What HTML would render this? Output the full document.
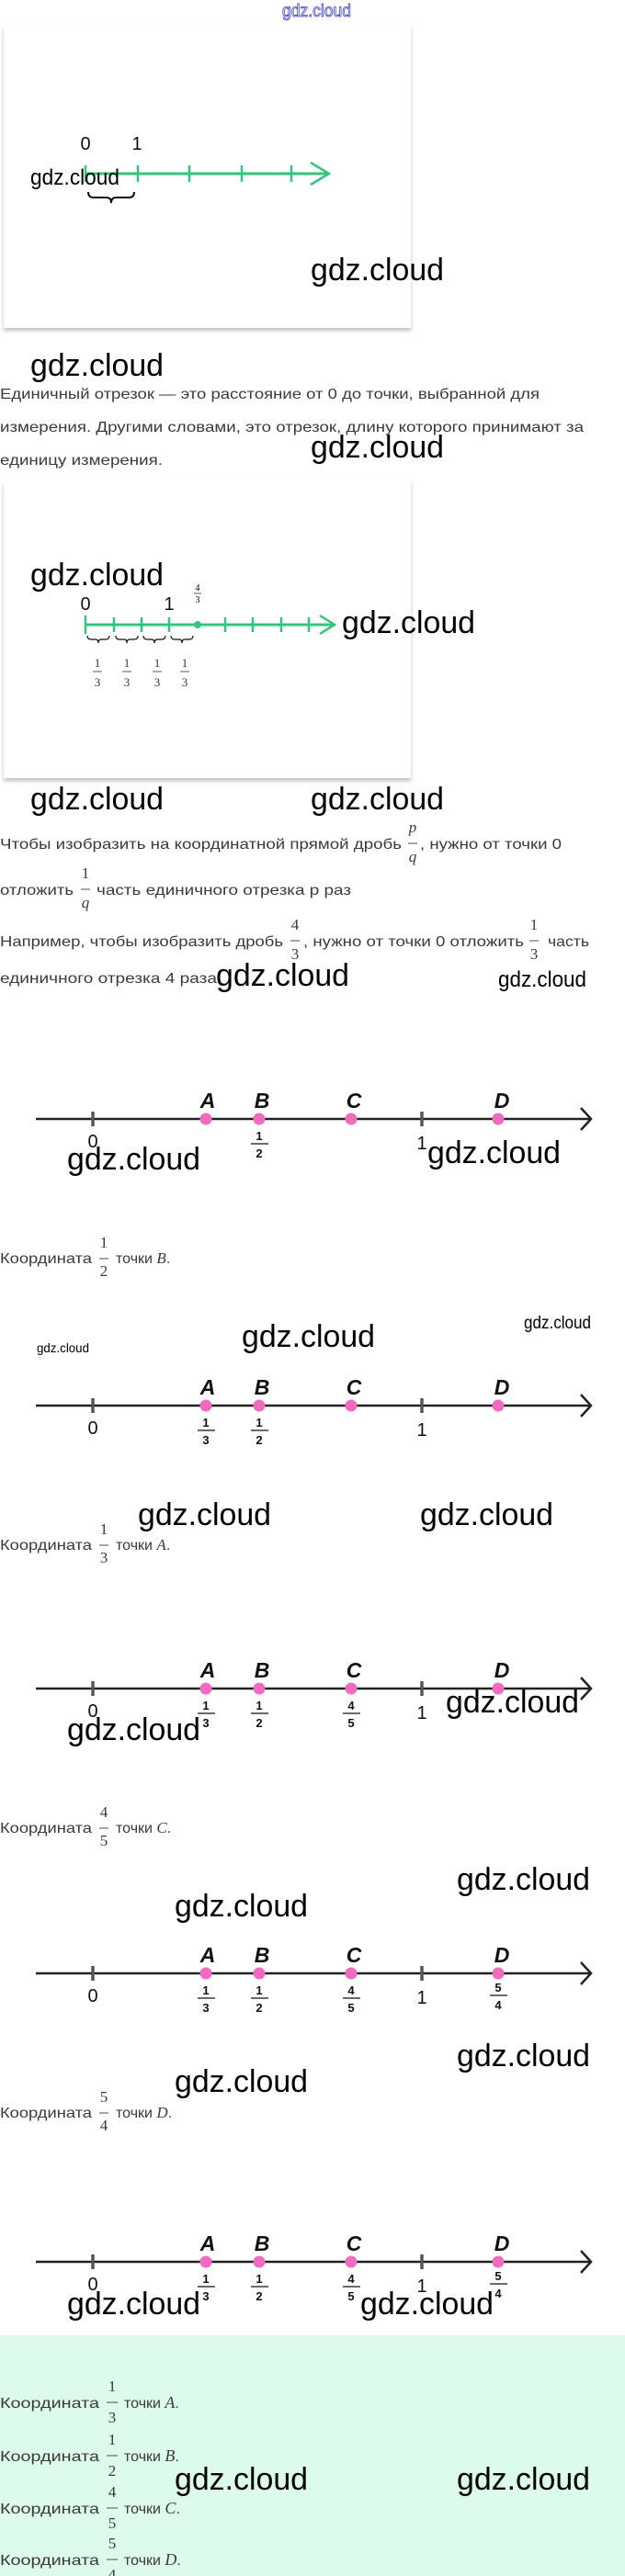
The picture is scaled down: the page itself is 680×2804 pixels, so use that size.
<!DOCTYPE html>
<html><head><meta charset="utf-8"><style>
html,body{margin:0;padding:0;background:#fff;}
svg{display:block;}
.w{font-family:"Liberation Sans",sans-serif;fill:#000;}
.t{font-family:"Liberation Sans",sans-serif;fill:#3a3a3a;font-size:16px;}
.m{font-family:"Liberation Serif",serif;fill:#3a3a3a;font-size:17px;}
.lb{font-family:"Liberation Sans",sans-serif;font-weight:bold;font-style:italic;font-size:23px;fill:#111;}
.nm{font-family:"Liberation Sans",sans-serif;font-size:20px;fill:#111;}
.fr{font-family:"Liberation Sans",sans-serif;font-weight:bold;font-size:13px;fill:#111;}
</style></head><body>
<svg width="680" height="2804" viewBox="0 0 680 2804" xmlns="http://www.w3.org/2000/svg">
<defs>
<filter id="sh" x="-5%" y="-5%" width="110%" height="115%"><feDropShadow dx="0" dy="3" stdDeviation="2" flood-color="#000" flood-opacity="0.25"/></filter>
<g id="nl">
  <line x1="39" y1="0" x2="642" y2="0" stroke="#222" stroke-width="2.5"/>
  <polyline points="632,-12 643,0 632,12" fill="none" stroke="#222" stroke-width="2.5"/>
  <line x1="101" y1="-8" x2="101" y2="8" stroke="#555" stroke-width="3.5"/>
  <line x1="459" y1="-8" x2="459" y2="8" stroke="#555" stroke-width="3.5"/>
  <circle cx="224" cy="0" r="6.5" fill="#f06ac0"/>
  <circle cx="282" cy="0" r="6.5" fill="#f06ac0"/>
  <circle cx="382" cy="0" r="6.5" fill="#f06ac0"/>
  <circle cx="542" cy="0" r="6.5" fill="#f06ac0"/>
  <text class="lb" x="226" y="-12" text-anchor="middle">A</text>
  <text class="lb" x="285" y="-12" text-anchor="middle">B</text>
  <text class="lb" x="385" y="-12" text-anchor="middle">C</text>
  <text class="lb" x="546" y="-12" text-anchor="middle">D</text>
  <text class="nm" x="101" y="31" text-anchor="middle">0</text>
  <text class="nm" x="459" y="33" text-anchor="middle">1</text>
  <text class="fr" x="282" y="23" text-anchor="middle">1</text>
  <line x1="273" y1="27" x2="292" y2="27" stroke="#111" stroke-width="1.3"/>
  <text class="fr" x="282" y="42" text-anchor="middle">2</text>
</g>
<g id="fA"><text class="fr" x="224" y="23" text-anchor="middle">1</text><line x1="215" y1="27" x2="234" y2="27" stroke="#111" stroke-width="1.3"/><text class="fr" x="224" y="42" text-anchor="middle">3</text></g>
<g id="fC"><text class="fr" x="382" y="23" text-anchor="middle">4</text><line x1="373" y1="27" x2="392" y2="27" stroke="#111" stroke-width="1.3"/><text class="fr" x="382" y="42" text-anchor="middle">5</text></g>
<g id="fD"><text class="fr" x="542" y="20" text-anchor="middle">5</text><line x1="533" y1="24" x2="552" y2="24" stroke="#111" stroke-width="1.3"/><text class="fr" x="542" y="39" text-anchor="middle">4</text></g>
</defs>

<!-- top watermark -->
<text x="307" y="18" font-family="Liberation Sans,sans-serif" font-size="19" fill="#fff" stroke="#3333cc" stroke-width="0.8" textLength="75" lengthAdjust="spacingAndGlyphs">gdz.cloud</text>

<!-- card 1 -->
<rect x="4" y="28" width="443" height="329" fill="#fff" filter="url(#sh)"/>
<line x1="93" y1="189" x2="356" y2="189" stroke="#34c47a" stroke-width="3"/>
<polyline points="338,177 358,189 338,201" fill="none" stroke="#34c47a" stroke-width="2.5"/>
<g stroke="#34c47a" stroke-width="2.5">
<line x1="93" y1="180" x2="93" y2="198"/><line x1="150" y1="180" x2="150" y2="198"/><line x1="206" y1="180" x2="206" y2="198"/><line x1="263" y1="180" x2="263" y2="198"/><line x1="317" y1="180" x2="317" y2="198"/>
</g>
<text class="nm" x="93" y="163" text-anchor="middle">0</text>
<text class="nm" x="149" y="163" text-anchor="middle">1</text>
<path d="M96,209 q0,6 6,6 h14 q5,0 5,6 q0,-6 5,-6 h14 q6,0 6,-6" fill="none" stroke="#111" stroke-width="2"/>

<!-- text block 1 -->
<text class="t" x="0" y="434" textLength="587" lengthAdjust="spacingAndGlyphs">Единичный отрезок — это расстояние от 0 до точки, выбранной для</text>
<text class="t" x="0" y="470" textLength="635" lengthAdjust="spacingAndGlyphs">измерения. Другими словами, это отрезок, длину которого принимают за</text>
<text class="t" x="0" y="506" textLength="177" lengthAdjust="spacingAndGlyphs">единицу измерения.</text>

<!-- card 2 -->
<rect x="4" y="523" width="443" height="324" fill="#fff" filter="url(#sh)"/>
<line x1="93" y1="680" x2="362" y2="680" stroke="#34c47a" stroke-width="3"/>
<polyline points="348,670 364,680 348,690" fill="none" stroke="#34c47a" stroke-width="2.5"/>
<g stroke="#34c47a" stroke-width="2.5">
<line x1="93" y1="670" x2="93" y2="690"/><line x1="124" y1="672" x2="124" y2="688"/><line x1="154" y1="672" x2="154" y2="688"/><line x1="184" y1="672" x2="184" y2="688"/><line x1="245" y1="672" x2="245" y2="688"/><line x1="275" y1="672" x2="275" y2="688"/><line x1="306" y1="672" x2="306" y2="688"/><line x1="336" y1="672" x2="336" y2="688"/>
</g>
<circle cx="215" cy="680" r="4" fill="#34c47a"/>
<text class="nm" x="93" y="664" text-anchor="middle">0</text>
<text class="nm" x="184" y="664" text-anchor="middle">1</text>
<text font-family="Liberation Serif,serif" font-size="10" x="215" y="643" text-anchor="middle">4</text>
<line x1="211" y1="646" x2="219" y2="646" stroke="#333" stroke-width="0.8"/>
<text font-family="Liberation Serif,serif" font-size="10" x="215" y="656" text-anchor="middle">3</text>
<g fill="none" stroke="#111" stroke-width="1.2">
<path d="M95,692 q0,4 4,4 h5 q3,0 3,4 q0,-4 3,-4 h5 q4,0 4,-4"/>
<path d="M126,692 q0,4 4,4 h5 q3,0 3,4 q0,-4 3,-4 h5 q4,0 4,-4"/>
<path d="M156,692 q0,4 4,4 h5 q3,0 3,4 q0,-4 3,-4 h5 q4,0 4,-4"/>
<path d="M186,692 q0,4 4,4 h5 q3,0 3,4 q0,-4 3,-4 h5 q4,0 4,-4"/>
</g>
<g font-family="Liberation Serif,serif" font-size="13" fill="#333" text-anchor="middle">
<text x="106" y="726">1</text><text x="106" y="747">3</text>
<text x="138" y="726">1</text><text x="138" y="747">3</text>
<text x="171" y="726">1</text><text x="171" y="747">3</text>
<text x="201" y="726">1</text><text x="201" y="747">3</text>
</g>
<g stroke="#333" stroke-width="0.8">
<line x1="101" y1="731" x2="111" y2="731"/><line x1="133" y1="731" x2="143" y2="731"/><line x1="166" y1="731" x2="176" y2="731"/><line x1="196" y1="731" x2="206" y2="731"/>
</g>

<!-- text block 2 -->
<text class="t" x="0" y="924" textLength="437" lengthAdjust="spacingAndGlyphs">Чтобы изобразить на координатной прямой дробь</text>
<text class="m" x="449" y="906" text-anchor="middle" font-style="italic">p</text>
<line x1="444" y1="918" x2="454" y2="918" stroke="#3a3a3a" stroke-width="0.9"/>
<text class="m" x="449" y="938" text-anchor="middle" font-style="italic">q</text>
<text class="t" x="457" y="924" textLength="154" lengthAdjust="spacingAndGlyphs">, нужно от точки 0</text>

<text class="t" x="0" y="974" textLength="80" lengthAdjust="spacingAndGlyphs">отложить</text>
<text class="m" x="93" y="956" text-anchor="middle">1</text>
<line x1="88" y1="968" x2="98" y2="968" stroke="#3a3a3a" stroke-width="0.9"/>
<text class="m" x="93" y="988" text-anchor="middle" font-style="italic">q</text>
<text class="t" x="105" y="974" textLength="277" lengthAdjust="spacingAndGlyphs">часть единичного отрезка p раз</text>

<text class="t" x="0" y="1030" textLength="308" lengthAdjust="spacingAndGlyphs">Например, чтобы изобразить дробь</text>
<text class="m" x="321" y="1012" text-anchor="middle">4</text>
<line x1="316" y1="1024" x2="326" y2="1024" stroke="#3a3a3a" stroke-width="0.9"/>
<text class="m" x="321" y="1044" text-anchor="middle">3</text>
<text class="t" x="330" y="1030" textLength="240" lengthAdjust="spacingAndGlyphs">, нужно от точки 0 отложить</text>
<text class="m" x="581" y="1012" text-anchor="middle">1</text>
<line x1="576" y1="1024" x2="586" y2="1024" stroke="#3a3a3a" stroke-width="0.9"/>
<text class="m" x="581" y="1044" text-anchor="middle">3</text>
<text class="t" x="596" y="1030" textLength="45" lengthAdjust="spacingAndGlyphs">часть</text>
<text class="t" x="0" y="1070" textLength="236" lengthAdjust="spacingAndGlyphs">единичного отрезка 4 раза</text>

<!-- number lines -->
<use href="#nl" x="0" y="1218"/>

<use href="#nl" x="0" y="1530"/><use href="#fA" x="0" y="1530"/>

<use href="#nl" x="0" y="1838"/><use href="#fA" x="0" y="1838"/><use href="#fC" x="0" y="1838"/>

<use href="#nl" x="0" y="2148"/><use href="#fA" x="0" y="2148"/><use href="#fC" x="0" y="2148"/><use href="#fD" x="0" y="2148"/>

<use href="#nl" x="0" y="2462"/><use href="#fA" x="0" y="2462"/><use href="#fC" x="0" y="2462"/><use href="#fD" x="0" y="2462"/>

<!-- coordinate lines -->
<g>
<text class="t" x="0" y="1375" font-size="15" textLength="100" lengthAdjust="spacingAndGlyphs">Координата</text>
<text class="m" x="113" y="1358" text-anchor="middle">1</text><line x1="108" y1="1370" x2="118" y2="1370" stroke="#3a3a3a" stroke-width="0.9"/><text class="m" x="113" y="1389" text-anchor="middle">2</text>
<text class="t" x="126" y="1375" font-size="15">точки <tspan font-family="Liberation Serif,serif" font-style="italic" font-size="17">B</tspan>.</text>

<text class="t" x="0" y="1687" font-size="15" textLength="100" lengthAdjust="spacingAndGlyphs">Координата</text>
<text class="m" x="113" y="1670" text-anchor="middle">1</text><line x1="108" y1="1682" x2="118" y2="1682" stroke="#3a3a3a" stroke-width="0.9"/><text class="m" x="113" y="1701" text-anchor="middle">3</text>
<text class="t" x="126" y="1687" font-size="15">точки <tspan font-family="Liberation Serif,serif" font-style="italic" font-size="17">A</tspan>.</text>

<text class="t" x="0" y="1995" font-size="15" textLength="100" lengthAdjust="spacingAndGlyphs">Координата</text>
<text class="m" x="113" y="1978" text-anchor="middle">4</text><line x1="108" y1="1990" x2="118" y2="1990" stroke="#3a3a3a" stroke-width="0.9"/><text class="m" x="113" y="2009" text-anchor="middle">5</text>
<text class="t" x="126" y="1995" font-size="15">точки <tspan font-family="Liberation Serif,serif" font-style="italic" font-size="17">C</tspan>.</text>

<text class="t" x="0" y="2305" font-size="15" textLength="100" lengthAdjust="spacingAndGlyphs">Координата</text>
<text class="m" x="113" y="2288" text-anchor="middle">5</text><line x1="108" y1="2300" x2="118" y2="2300" stroke="#3a3a3a" stroke-width="0.9"/><text class="m" x="113" y="2319" text-anchor="middle">4</text>
<text class="t" x="126" y="2305" font-size="15">точки <tspan font-family="Liberation Serif,serif" font-style="italic" font-size="17">D</tspan>.</text>
</g>

<!-- green answer -->
<rect x="0" y="2542" width="680" height="262" fill="#dcfbeb"/>
<g>
<text class="t" x="0" y="2621" textLength="108" lengthAdjust="spacingAndGlyphs">Координата</text>
<text class="m" x="122" y="2603" text-anchor="middle" font-size="19">1</text><line x1="116" y1="2615" x2="128" y2="2615" stroke="#3a3a3a" stroke-width="0.9"/><text class="m" x="122" y="2637" text-anchor="middle" font-size="19">3</text>
<text class="t" x="135" y="2621">точки <tspan font-family="Liberation Serif,serif" font-style="italic" font-size="18">A</tspan>.</text>

<text class="t" x="0" y="2679" textLength="108" lengthAdjust="spacingAndGlyphs">Координата</text>
<text class="m" x="122" y="2661" text-anchor="middle" font-size="19">1</text><line x1="116" y1="2673" x2="128" y2="2673" stroke="#3a3a3a" stroke-width="0.9"/><text class="m" x="122" y="2695" text-anchor="middle" font-size="19">2</text>
<text class="t" x="135" y="2679">точки <tspan font-family="Liberation Serif,serif" font-style="italic" font-size="18">B</tspan>.</text>

<text class="t" x="0" y="2736" textLength="108" lengthAdjust="spacingAndGlyphs">Координата</text>
<text class="m" x="122" y="2718" text-anchor="middle" font-size="19">4</text><line x1="116" y1="2730" x2="128" y2="2730" stroke="#3a3a3a" stroke-width="0.9"/><text class="m" x="122" y="2752" text-anchor="middle" font-size="19">5</text>
<text class="t" x="135" y="2736">точки <tspan font-family="Liberation Serif,serif" font-style="italic" font-size="18">C</tspan>.</text>

<text class="t" x="0" y="2792" textLength="108" lengthAdjust="spacingAndGlyphs">Координата</text>
<text class="m" x="122" y="2774" text-anchor="middle" font-size="19">5</text><line x1="116" y1="2786" x2="128" y2="2786" stroke="#3a3a3a" stroke-width="0.9"/><text class="m" x="122" y="2808" text-anchor="middle" font-size="19">4</text>
<text class="t" x="135" y="2792">точки <tspan font-family="Liberation Serif,serif" font-style="italic" font-size="18">D</tspan>.</text>
</g>

<!-- watermarks -->
<g class="w" font-size="34">
<text x="33" y="201" font-size="24" textLength="97" lengthAdjust="spacingAndGlyphs">gdz.cloud</text>
<text x="338" y="305" textLength="145" lengthAdjust="spacingAndGlyphs">gdz.cloud</text>
<text x="33" y="409" textLength="145" lengthAdjust="spacingAndGlyphs">gdz.cloud</text>
<text x="338" y="498" textLength="145" lengthAdjust="spacingAndGlyphs">gdz.cloud</text>
<text x="33" y="637" textLength="145" lengthAdjust="spacingAndGlyphs">gdz.cloud</text>
<text x="372" y="689" textLength="145" lengthAdjust="spacingAndGlyphs">gdz.cloud</text>
<text x="33" y="881" textLength="145" lengthAdjust="spacingAndGlyphs">gdz.cloud</text>
<text x="338" y="881" textLength="145" lengthAdjust="spacingAndGlyphs">gdz.cloud</text>
<text x="235" y="1073" textLength="145" lengthAdjust="spacingAndGlyphs">gdz.cloud</text>
<text x="542" y="1074" font-size="24" textLength="96" lengthAdjust="spacingAndGlyphs">gdz.cloud</text>
<text x="73" y="1273" textLength="145" lengthAdjust="spacingAndGlyphs">gdz.cloud</text>
<text x="465" y="1266" textLength="145" lengthAdjust="spacingAndGlyphs">gdz.cloud</text>
<text x="40" y="1472" font-size="14" textLength="57" lengthAdjust="spacingAndGlyphs">gdz.cloud</text>
<text x="263" y="1466" textLength="145" lengthAdjust="spacingAndGlyphs">gdz.cloud</text>
<text x="570" y="1446" font-size="19" textLength="73" lengthAdjust="spacingAndGlyphs">gdz.cloud</text>
<text x="150" y="1660" textLength="145" lengthAdjust="spacingAndGlyphs">gdz.cloud</text>
<text x="457" y="1660" textLength="145" lengthAdjust="spacingAndGlyphs">gdz.cloud</text>
<text x="73" y="1894" textLength="145" lengthAdjust="spacingAndGlyphs">gdz.cloud</text>
<text x="485" y="1864" textLength="145" lengthAdjust="spacingAndGlyphs">gdz.cloud</text>
<text x="497" y="2057" textLength="145" lengthAdjust="spacingAndGlyphs">gdz.cloud</text>
<text x="190" y="2086" textLength="145" lengthAdjust="spacingAndGlyphs">gdz.cloud</text>
<text x="497" y="2249" textLength="145" lengthAdjust="spacingAndGlyphs">gdz.cloud</text>
<text x="190" y="2277" textLength="145" lengthAdjust="spacingAndGlyphs">gdz.cloud</text>
<text x="73" y="2519" textLength="145" lengthAdjust="spacingAndGlyphs">gdz.cloud</text>
<text x="392" y="2519" textLength="145" lengthAdjust="spacingAndGlyphs">gdz.cloud</text>
<text x="190" y="2710" textLength="145" lengthAdjust="spacingAndGlyphs">gdz.cloud</text>
<text x="497" y="2710" textLength="145" lengthAdjust="spacingAndGlyphs">gdz.cloud</text>
</g>
</svg>
</body></html>
